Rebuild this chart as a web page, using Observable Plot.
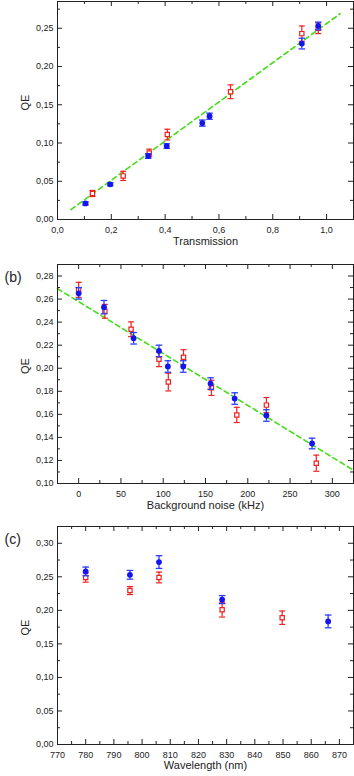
<!DOCTYPE html>
<html><head><meta charset="utf-8">
<script src="https://cdn.jsdelivr.net/npm/d3@7"></script>
<script src="https://cdn.jsdelivr.net/npm/@observablehq/plot@0.6"></script>
<style>body{margin:0;background:#fff;} svg{display:block;} #chart{width:354px;}</style>
</head><body><div id="chart"></div><script>
// ---------- Panel (a): QE vs Transmission ----------
const aBlueX = [0.104, 0.196, 0.337, 0.406, 0.538, 0.565, 0.908, 0.969];
const aBlueY = [0.021, 0.046, 0.083, 0.096, 0.126, 0.135, 0.230, 0.253];
const aBlueE = [0.002, 0.002, 0.003, 0.003, 0.004, 0.004, 0.007, 0.005];
const aRedX = [0.130, 0.244, 0.341, 0.408, 0.643, 0.908, 0.969];
const aRedY = [0.034, 0.057, 0.087, 0.111, 0.167, 0.243, 0.250];
const aRedE = [0.004, 0.006, 0.005, 0.007, 0.009, 0.010, 0.007];
const aFitX = [0.05, 1.05];
const aFitY = [0.013, 0.269];
const aXMajor = [0, 0.2, 0.4, 0.6, 0.8, 1.0];
const aXMinor = [0.1, 0.3, 0.5, 0.7, 0.9, 1.1];
const aYMajor = [0, 0.05, 0.10, 0.15, 0.20, 0.25];
const aYMinor = [0.025, 0.075, 0.125, 0.175, 0.225, 0.275];

// ---------- Panel (b): QE vs Background noise ----------
const bBlueX = [0, 30, 65, 95, 105.5, 123.7, 156, 184.5, 222, 276];
const bBlueY = [0.265, 0.253, 0.226, 0.215, 0.2015, 0.2015, 0.1867, 0.1737, 0.159, 0.1347];
const bBlueE = [0.005, 0.0058, 0.005, 0.005, 0.005, 0.005, 0.005, 0.005, 0.005, 0.0046];
const bRedX = [0, 31, 62, 95, 106, 124, 157, 187, 222, 281];
const bRedY = [0.268, 0.2494, 0.2338, 0.2078, 0.188, 0.2095, 0.183, 0.1595, 0.168, 0.1176];
const bRedE = [0.0065, 0.006, 0.0064, 0.0064, 0.0077, 0.0066, 0.0066, 0.0066, 0.0066, 0.007];
const bFitX = [-25, 325];
const bFitY = [0.269, 0.1115];
const bXMajor = [0, 50, 100, 150, 200, 250, 300];
const bXMinor = [-25, 25, 75, 125, 175, 225, 275, 325];
const bYMajor = [0.10, 0.12, 0.14, 0.16, 0.18, 0.20, 0.22, 0.24, 0.26, 0.28];
const bYMinor = [0.11, 0.13, 0.15, 0.17, 0.19, 0.21, 0.23, 0.25, 0.27, 0.29];

// ---------- Panel (c): QE vs Wavelength ----------
const cBlueX = [780, 795.7, 806, 828.4, 866];
const cBlueY = [0.258, 0.253, 0.272, 0.216, 0.1835];
const cBlueE = [0.0065, 0.0065, 0.0095, 0.006, 0.0095];
const cRedX = [780, 795.7, 806, 828.4, 849.7];
const cRedY = [0.249, 0.2295, 0.249, 0.201, 0.189];
const cRedE = [0.007, 0.006, 0.008, 0.011, 0.010];
const cXMajor = [770, 780, 790, 800, 810, 820, 830, 840, 850, 860, 870];
const cXMinor = [775, 785, 795, 805, 815, 825, 835, 845, 855, 865, 875];
const cYMajor = [0, 0.05, 0.10, 0.15, 0.20, 0.25, 0.30];
const cYMinor = [0.025, 0.075, 0.125, 0.175, 0.225, 0.275, 0.325];

const BLUE = "#1414ee", BLUE_BAR = "#2a3cff", RED = "#ee2020", GREEN = "#44dd18", INK = "#222";
const FONT = "'Liberation Sans', Arial, Helvetica, sans-serif";
const W = 354, ML = 57, MR = 1;

const zip = (xs, ys, es) => xs.map((x, i) => ({x, y: ys[i], e: es[i]}));
const cap = w => ({draw(ctx) { ctx.moveTo(-w, 0); ctx.lineTo(w, 0); }});
const comma = n => d => d.toFixed(n).replace(".", ",");

function panel(o) {
  const fh = o.height - o.mt - o.mb;
  const fw = W - ML - MR;
  const blue = zip(o.blue[0], o.blue[1], o.blue[2]);
  const red = zip(o.red[0], o.red[1], o.red[2]);
  const marks = [
    // inward ticks on all four sides
    Plot.tickX(o.xMajor, {x: d => d, insetTop: fh - 5, stroke: INK}),
    Plot.tickX(o.xMajor, {x: d => d, insetBottom: fh - 5, stroke: INK}),
    Plot.tickX(o.xMinor, {x: d => d, insetTop: fh - 3, stroke: INK}),
    Plot.tickX(o.xMinor, {x: d => d, insetBottom: fh - 3, stroke: INK}),
    Plot.tickY(o.yMajor, {y: d => d, insetRight: fw - 5, stroke: INK}),
    Plot.tickY(o.yMajor, {y: d => d, insetLeft: fw - 5, stroke: INK}),
    Plot.tickY(o.yMinor, {y: d => d, insetRight: fw - 3, stroke: INK}),
    Plot.tickY(o.yMinor, {y: d => d, insetLeft: fw - 3, stroke: INK}),
    Plot.axisX({ticks: o.xMajor, tickSize: 0, tickPadding: 7, tickFormat: o.xFmt, fontSize: 9, label: null, fill: INK}),
    Plot.axisY({ticks: o.yMajor, tickSize: 0, tickPadding: 4, tickFormat: o.yFmt, fontSize: 9, label: null, fill: INK}),
    Plot.text([o.xLabel], {text: d => d, frameAnchor: "bottom", dy: o.labelDy, fontSize: 11, fill: INK}),
    Plot.text(["QE"], {text: d => d, frameAnchor: "left", dx: -32, rotate: -90, fontSize: 11, fill: INK}),
  ];
  if (o.tag) marks.push(Plot.text([o.tag], {text: d => d, frameAnchor: "top-left", textAnchor: "start", dx: -53, dy: o.tagDy, fontSize: 14, fill: INK}));
  if (o.fit) marks.push(Plot.line(o.fit[0].map((x, i) => ({x, y: o.fit[1][i]})), {x: "x", y: "y", stroke: GREEN, strokeWidth: 1.6, strokeDasharray: "5,3.5"}));
  marks.push(
    Plot.ruleX(red, {x: "x", y1: d => d.y - d.e, y2: d => d.y + d.e, stroke: RED, strokeWidth: 1.2}),
    Plot.dot(red, {x: "x", y: d => d.y - d.e, symbol: cap(3), stroke: RED, fill: "none", strokeWidth: 1.2}),
    Plot.dot(red, {x: "x", y: d => d.y + d.e, symbol: cap(3), stroke: RED, fill: "none", strokeWidth: 1.2}),
    Plot.dot(red, {x: "x", y: "y", symbol: "square", r: 2.4, stroke: RED, fill: "white", strokeWidth: 1.2}),
    Plot.ruleX(blue, {x: "x", y1: d => d.y - d.e, y2: d => d.y + d.e, stroke: BLUE_BAR, strokeWidth: 1.3}),
    Plot.dot(blue, {x: "x", y: d => d.y - d.e, symbol: cap(3.3), stroke: BLUE_BAR, fill: "none", strokeWidth: 1.3}),
    Plot.dot(blue, {x: "x", y: d => d.y + d.e, symbol: cap(3.3), stroke: BLUE_BAR, fill: "none", strokeWidth: 1.3}),
    Plot.dot(blue, {x: "x", y: "y", r: 2.9, fill: BLUE, stroke: "none"}),
    Plot.frame({stroke: INK, strokeWidth: 1})
  );
  return Plot.plot({
    width: W, height: o.height,
    marginLeft: ML, marginRight: MR, marginTop: o.mt, marginBottom: o.mb,
    style: {fontFamily: FONT, fontSize: "9px", background: "white", overflow: "visible"},
    x: {domain: o.xDomain},
    y: {domain: o.yDomain},
    marks
  });
}

const chart = document.getElementById("chart");
chart.append(panel({
  height: 255, mt: 1, mb: 36,
  xDomain: [0, 1.1], yDomain: [0, 0.285],
  xMajor: aXMajor, xMinor: aXMinor, yMajor: aYMajor, yMinor: aYMinor,
  xFmt: comma(1), yFmt: comma(2), xLabel: "Transmission", labelDy: 25,
  blue: [aBlueX, aBlueY, aBlueE], red: [aRedX, aRedY, aRedE], fit: [aFitX, aFitY]
}));
chart.append(panel({
  height: 265, mt: 9, mb: 37,
  xDomain: [-25, 325], yDomain: [0.10, 0.29],
  xMajor: bXMajor, xMinor: bXMinor, yMajor: bYMajor, yMinor: bYMinor,
  xFmt: d => String(d), yFmt: comma(2), xLabel: "Background noise (kHz)", labelDy: 25,
  tag: "(b)", tagDy: 7.5,
  blue: [bBlueX, bBlueY, bBlueE], red: [bRedX, bRedY, bRedE], fit: [bFitX, bFitY]
}));
chart.append(panel({
  height: 256, mt: 6, mb: 32,
  xDomain: [770, 875], yDomain: [0, 0.325],
  xMajor: cXMajor, xMinor: cXMinor, yMajor: cYMajor, yMinor: cYMinor,
  xFmt: d => String(d), yFmt: comma(2), xLabel: "Wavelength (nm)", labelDy: 24,
  tag: "(c)", tagDy: 8,
  blue: [cBlueX, cBlueY, cBlueE], red: [cRedX, cRedY, cRedE]
}));
</script></body></html>
